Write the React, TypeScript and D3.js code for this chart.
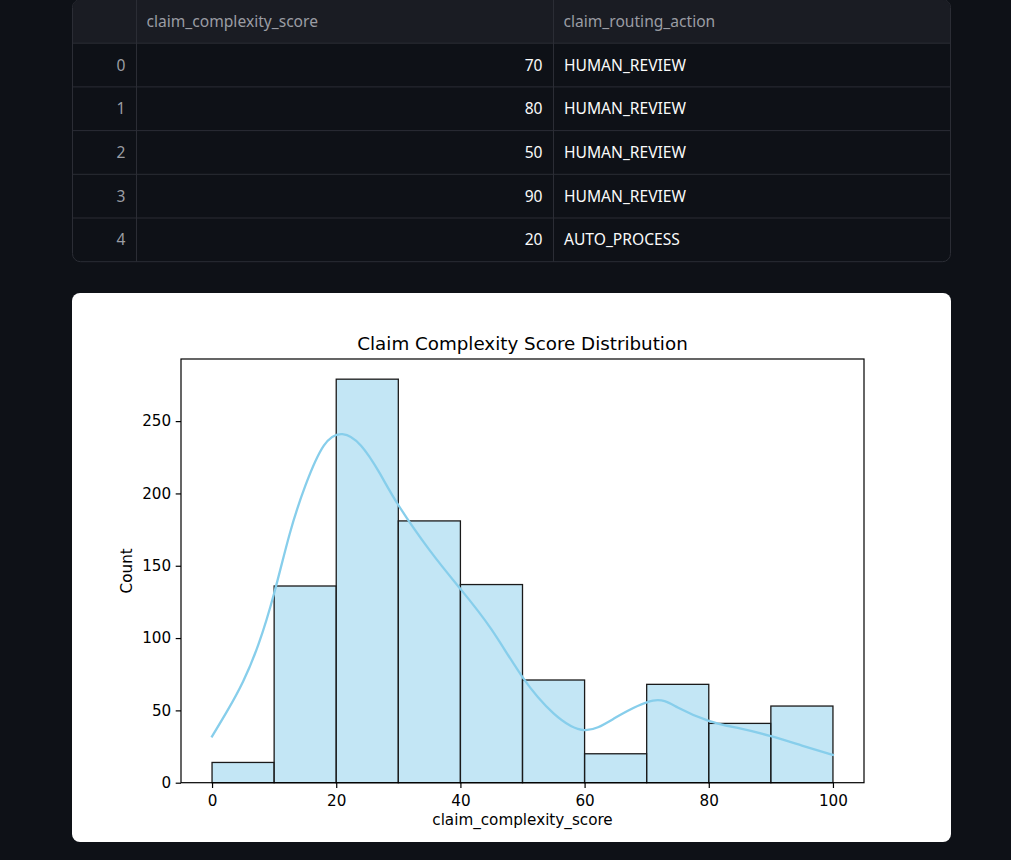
import { useEffect, useRef } from "react"
import * as d3 from "d3"

// table preview
const rowIndex = [0, 1, 2, 3, 4]
const complexityScores = [70, 80, 50, 90, 20]
const routingActions = ["HUMAN_REVIEW", "HUMAN_REVIEW", "HUMAN_REVIEW", "HUMAN_REVIEW", "AUTO_PROCESS"]
const columnNames = ["claim_complexity_score", "claim_routing_action"]

// histogram
const binEdges = [0, 10, 20, 30, 40, 50, 60, 70, 80, 90, 100]
const binCounts = [14, 136, 279, 181, 137, 71, 20, 68, 41, 53]

// kde curve (in count units)
const kdeX = [0, 2.5, 5, 7.5, 10, 12.5, 15, 18, 21, 24, 27, 30, 35, 40, 45, 50, 55, 60, 65, 71, 75, 80, 85, 90, 95, 100]
const kdeY = [32, 50, 70, 96, 131, 172, 205, 233, 241, 233, 214, 192, 161, 134, 106, 73, 48, 36.4, 45, 56.7, 52, 42.8, 37.5, 32.2, 25.7, 19.2]

const xTicks = [0, 20, 40, 60, 80, 100]
const yTicks = [0, 50, 100, 150, 200, 250]

const W = 1011
const H = 860

export default function App() {
  const svgRef = useRef<SVGSVGElement>(null)

  useEffect(() => {
    if (!svgRef.current) return
    const svg = d3.select(svgRef.current)
    svg.selectAll("*").remove()

    svg.append("rect").attr("width", W).attr("height", H).attr("fill", "#0e1117")

    // ---- table ----
    const tLeft = 72, tRight = 951, tTop = -0.5, rowH = 43.7
    const colX = [tLeft, 136.5, 553.5, tRight]
    const tBottom = tTop + rowH * 6
    const uiFont = "'Noto Sans', sans-serif"
    const uiSize = "15.6px"

    svg.append("rect")
      .attr("x", tLeft + 0.5).attr("y", tTop).attr("width", tRight - tLeft - 1).attr("height", tBottom - tTop)
      .attr("rx", 8).attr("fill", "#0e1117").attr("stroke", "#2b2d35")
    svg.append("path")
      .attr("d", `M${tLeft + 1},${tTop + rowH} L${tLeft + 1},${tTop + 8} Q${tLeft + 1},${tTop + 0.5} ${tLeft + 8},${tTop + 0.5} L${tRight - 8},${tTop + 0.5} Q${tRight - 1},${tTop + 0.5} ${tRight - 1},${tTop + 8} L${tRight - 1},${tTop + rowH} Z`)
      .attr("fill", "#1a1c23")

    for (let i = 1; i < 6; i++) {
      svg.append("line")
        .attr("x1", tLeft + 1).attr("x2", tRight - 1)
        .attr("y1", tTop + rowH * i).attr("y2", tTop + rowH * i)
        .attr("stroke", "#2b2d35")
    }
    for (let j = 1; j < 3; j++) {
      svg.append("line")
        .attr("x1", colX[j]).attr("x2", colX[j])
        .attr("y1", tTop).attr("y2", tBottom)
        .attr("stroke", "#2b2d35")
    }

    columnNames.forEach((name, j) => {
      svg.append("text")
        .attr("x", colX[j + 1] + 10).attr("y", tTop + rowH / 2)
        .attr("dy", "0.35em")
        .style("font-family", uiFont).style("font-size", uiSize)
        .style("fill", "#9b9da3")
        .text(name)
    })

    rowIndex.forEach((idx, i) => {
      const cy = tTop + rowH * (i + 1) + rowH / 2
      svg.append("text")
        .attr("x", colX[1] - 11).attr("y", cy).attr("dy", "0.35em")
        .attr("text-anchor", "end")
        .style("font-family", uiFont).style("font-size", uiSize).style("fill", "#9b9da3")
        .text(idx)
      svg.append("text")
        .attr("x", colX[2] - 11).attr("y", cy).attr("dy", "0.35em")
        .attr("text-anchor", "end")
        .style("font-family", uiFont).style("font-size", uiSize).style("fill", "#fafafa")
        .text(complexityScores[i])
      svg.append("text")
        .attr("x", colX[2] + 10.5).attr("y", cy).attr("dy", "0.35em")
        .style("font-family", uiFont).style("font-size", uiSize).style("fill", "#fafafa")
        .text(routingActions[i])
    })

    // ---- chart card ----
    svg.append("rect")
      .attr("x", 72).attr("y", 293).attr("width", 879).attr("height", 549)
      .attr("rx", 8).attr("fill", "#ffffff")

    const margin = { left: 181, right: 864, top: 359, bottom: 782.7 }
    const mpl = "'DejaVu Sans', sans-serif"

    const x = d3.scaleLinear().domain([-5, 105]).range([margin.left, margin.right])
    const y = d3.scaleLinear().domain([0, 279 * 1.05]).range([margin.bottom, margin.top])

    const g = svg.append("g")

    // bars
    const bins = binCounts.map((c, i) => ({ x0: binEdges[i], x1: binEdges[i + 1], count: c }))
    g.selectAll(".bar")
      .data(bins)
      .enter()
      .append("rect")
      .attr("x", d => x(d.x0))
      .attr("y", d => y(d.count))
      .attr("width", d => x(d.x1) - x(d.x0))
      .attr("height", d => y(0) - y(d.count))
      .attr("fill", "#87ceeb")
      .attr("fill-opacity", 0.5)
      .attr("stroke", "#1a1a1a")
      .attr("stroke-width", 1.3)

    // kde
    const kdePts = kdeX.map((v, i) => [v, kdeY[i]] as [number, number])
    const line = d3.line<[number, number]>()
      .x(d => x(d[0]))
      .y(d => y(d[1]))
      .curve(d3.curveNatural)
    g.append("path")
      .datum(kdePts)
      .attr("d", line)
      .attr("fill", "none")
      .attr("stroke", "#87ceeb")
      .attr("stroke-width", 2.3)
      .attr("stroke-linecap", "square")

    // frame
    g.append("rect")
      .attr("x", margin.left).attr("y", margin.top)
      .attr("width", margin.right - margin.left).attr("height", margin.bottom - margin.top)
      .attr("fill", "none").attr("stroke", "#000").attr("stroke-width", 1.2)

    // x axis
    const xAxis = g.append("g")
      .attr("transform", `translate(0,${margin.bottom})`)
      .call(d3.axisBottom(x).tickValues(xTicks).tickSize(5.3).tickPadding(7).tickFormat(d3.format("d")))
    xAxis.select(".domain").remove()
    xAxis.selectAll("line").attr("stroke", "#000").attr("stroke-width", 1.2)
    xAxis.selectAll("text")
      .style("font-family", mpl).style("font-size", "15.2px").style("fill", "#000")

    // y axis
    const yAxis = g.append("g")
      .attr("transform", `translate(${margin.left},0)`)
      .call(d3.axisLeft(y).tickValues(yTicks).tickSize(5.3).tickPadding(4.5).tickFormat(d3.format("d")))
    yAxis.select(".domain").remove()
    yAxis.selectAll("line").attr("stroke", "#000").attr("stroke-width", 1.2)
    yAxis.selectAll("text")
      .style("font-family", mpl).style("font-size", "15.2px").style("fill", "#000")

    // labels
    svg.append("text")
      .attr("x", (margin.left + margin.right) / 2).attr("y", 350)
      .attr("text-anchor", "middle")
      .style("font-family", mpl).style("font-size", "18.3px").style("fill", "#000")
      .text("Claim Complexity Score Distribution")

    svg.append("text")
      .attr("x", (margin.left + margin.right) / 2).attr("y", 825)
      .attr("text-anchor", "middle")
      .style("font-family", mpl).style("font-size", "15.2px").style("fill", "#000")
      .text("claim_complexity_score")

    svg.append("text")
      .attr("transform", `translate(132,${(margin.top + margin.bottom) / 2}) rotate(-90)`)
      .attr("text-anchor", "middle")
      .style("font-family", mpl).style("font-size", "15.2px").style("fill", "#000")
      .text("Count")
  }, [])

  return (
    <div style={{ position: "absolute", left: 0, top: 0 }}>
      <svg ref={svgRef} width={W} height={H} style={{ display: "block" }} />
    </div>
  )
}
